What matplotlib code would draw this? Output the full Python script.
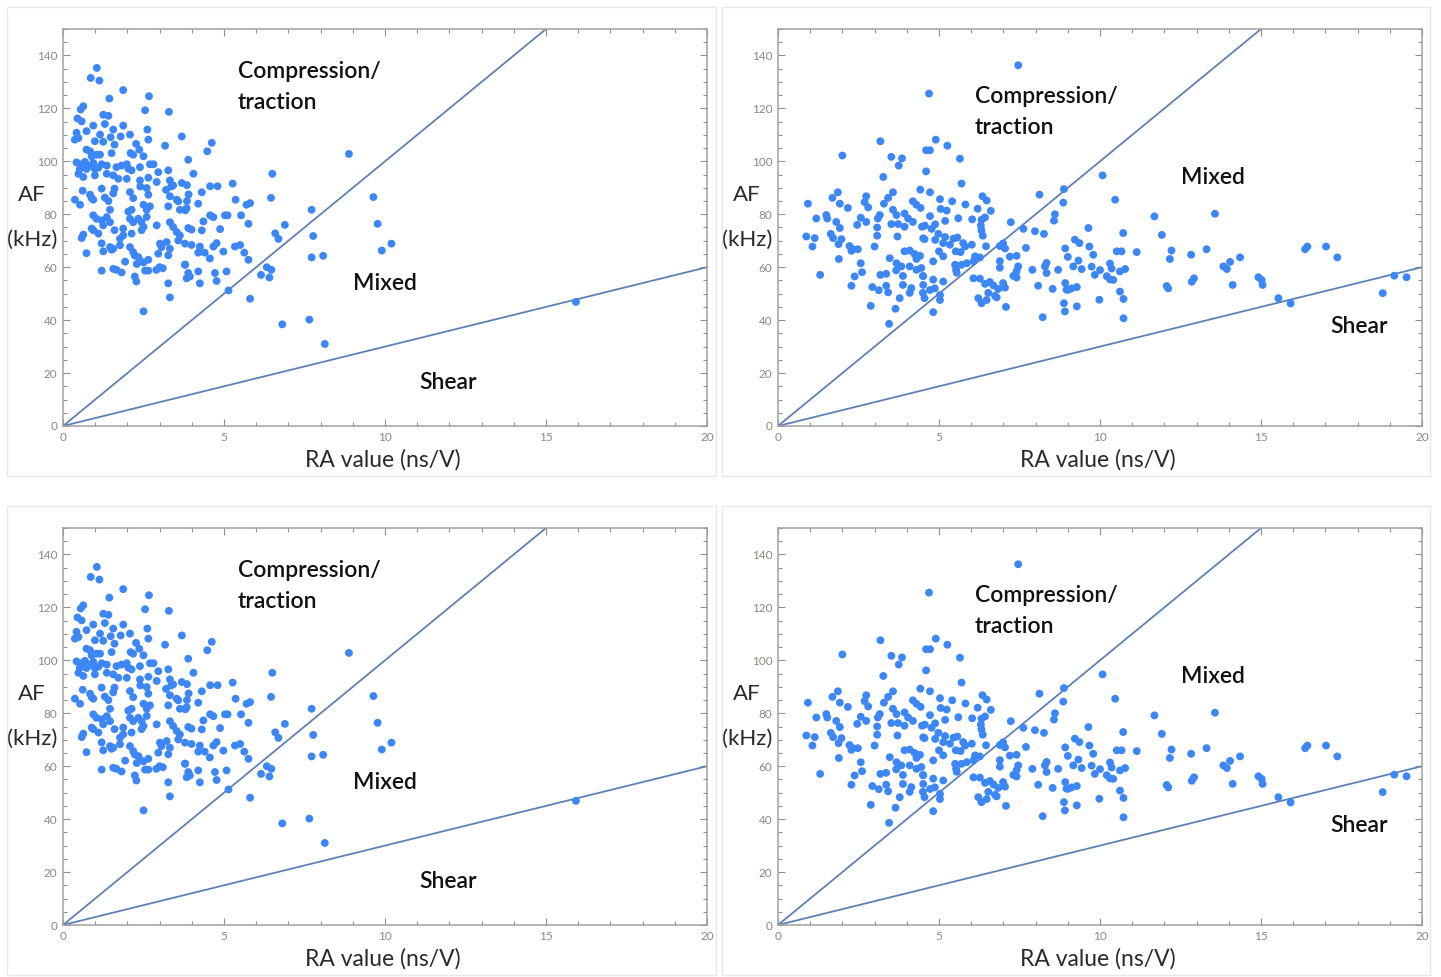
import numpy as np
import matplotlib
matplotlib.use('Agg')
import matplotlib.pyplot as plt
from matplotlib.patches import Rectangle
from matplotlib.ticker import MultipleLocator

# RA (ns/V), AF (kHz), left data set
left_pts = [
    (1.05,135.3),(0.86,131.5),(1.13,130.5),(1.87,126.9),(1.44,123.7),(2.67,124.6),(0.63,120.8),(0.55,119.6),
    (2.55,119.3),(3.29,118.7),(1.25,117.6),(1.41,117.2),(0.45,116.2),(0.58,115.1),(0.94,113.5),(1.3,114.1),
    (1.87,113.5),(2.62,112.0),(1.56,112.0),(0.73,111.4),(0.42,110.8),(1.15,110.1),(2.08,110.1),(1.79,109.4),
    (1.48,109.1),(3.69,109.4),(2.65,108.2),(0.37,108.2),(0.48,108.8),(2.27,106.6),(0.99,107.6),(1.25,107.4),
    (1.6,106.3),(2.37,104.4),(3.17,105.9),(0.73,104.4),(0.84,103.8),(2.1,103.1),(2.18,102.5),(1.51,103.1),
    (1.04,102.5),(0.89,101.9),(1.15,102.5),(3.89,100.6),(2.5,101.9),(2.7,98.9),
    (0.42,99.6),(0.58,98.9),(0.68,99.8),(0.84,98.3),(0.94,99.4),(1.1,97.6),(1.2,98.9),(0.73,97.1),(0.52,97.1),
    (0.99,97.1),(1.36,98.4),(1.66,97.8),(1.82,98.4),(1.98,98.9),(2.03,97.2),(2.13,96.6),(2.39,97.8),(2.81,98.9),
    (3.27,96.6),(0.48,95.3),(0.63,94.1),(0.99,94.7),(1.36,95.3),(1.56,94.7),(1.72,93.4),(1.98,93.4),(2.39,92.8),
    (2.65,93.8),(2.96,95.9),(3.32,92.8),(2.91,92.2),(3.69,91.8),(3.42,90.9),
    (0.61,88.9),(0.37,85.5),(0.53,83.6),(0.84,87.4),(0.94,85.5),(0.89,86.1),(1.2,89.7),(1.3,86.3),(1.41,85.0),
    (1.46,81.7),(1.56,87.9),(1.6,89.7),(2.08,88.4),(2.18,86.1),(2.13,81.7),(2.03,81.0),(2.4,90.5),(2.6,89.9),
    (2.65,87.4),(2.5,83.6),(2.7,83.0),(2.6,81.7),(3.2,89.2),(3.36,90.5),(3.32,86.8),(3.27,83.0),(3.58,84.9),
    (3.63,81.7),(3.84,82.3),(3.53,85.5),(0.94,79.6),(1.04,78.3),(1.2,77.7),(1.36,78.9),(1.46,77.0),(1.25,75.8),
    (2.08,78.3),(2.18,77.0),(2.34,78.3),(2.44,77.0),(2.5,75.2),(2.6,79.0),(2.44,74.0),(3.32,77.0),(3.42,75.2),
    (3.53,73.3),(3.63,72.0),(3.58,70.1),(3.79,68.9),(0.89,74.6),(0.94,74.0),(1.1,72.7),(1.6,74.0),(1.87,74.6),
    (1.87,72.0),(2.13,72.7),(1.77,70.8),(2.91,75.8),(3.01,68.9),(3.06,67.6),(3.22,69.5),(2.96,65.1),(3.32,67.0),
    (3.27,64.5),(0.63,72.3),(0.58,71.0),(1.2,69.0),(1.46,67.6),(1.56,67.0),(1.77,68.3),(2.08,67.6),(2.18,65.7),
    (2.23,64.4),(2.34,63.8),(2.39,62.5),(2.29,61.2),(2.5,61.8),(1.25,66.0),(1.51,66.6),(0.73,65.3),(1.93,62.1),
    (2.65,62.8),(3.0,60.0),(3.1,59.6),(1.56,59.4),(1.66,59.0),(1.82,58.0),(1.2,58.7),(2.55,58.7),(2.65,58.7),
    (2.9,59.0),(3.79,60.9),(3.84,55.8),(2.23,56.5),(2.28,54.6),(3.27,53.9),(3.32,48.6),(2.5,43.3),
    (4.62,107.0),(4.48,103.8),(8.88,102.8),(4.05,95.3),(6.5,95.3),(3.85,91.0),(3.9,87.5),(3.85,85.0),(3.8,81.5),
    (4.57,90.6),(4.8,90.6),(4.31,88.3),(5.27,91.6),(5.36,85.5),(6.46,86.2),(5.7,83.6),(5.81,84.2),(4.2,84.0),
    (4.57,79.6),(4.67,78.9),(5.03,79.6),(5.11,79.6),(5.53,79.6),(4.36,77.3),(5.76,76.4),(7.72,81.7),(6.89,76.0),
    (6.59,72.8),(6.69,70.7),(7.77,71.8),(3.89,74.8),(3.99,74.2),(4.31,73.9),(4.88,74.4),(3.99,68.4),(4.25,67.8),
    (4.2,65.5),(4.4,65.5),(4.56,63.3),(4.67,67.8),(4.77,69.1),(4.98,65.9),(5.34,67.8),(5.5,68.4),(5.63,65.5),
    (5.76,62.8),(7.72,63.7),(8.08,64.3),(3.79,61.0),(3.89,57.8),(3.94,56.5),(4.2,58.4),(4.72,57.8),(5.08,58.4),
    (4.25,53.9),(4.77,54.8),(6.15,57.1),(6.33,60.0),(6.47,59.0),(6.41,56.1),(5.14,51.2),(5.81,48.1),(6.81,38.4),
    (7.65,40.2),(8.13,31.0),(9.64,86.5),(9.77,76.4),(10.2,68.9),(9.9,66.3),(15.93,46.9),
]

# right data set
right_pts = [
    (7.46,136.3),(4.69,125.6),
    (3.18,107.6),(2.0,102.2),(3.52,101.7),(3.85,101.1),(3.75,98.4),(3.27,94.1),(4.6,104.2),(4.6,96.2),(4.42,89.3),
    (1.86,88.3),(1.69,86.2),(0.93,84.0),(1.92,84.0),(2.17,82.4),(2.74,86.8),(2.69,84.6),(2.8,82.6),(3.57,88.3),
    (3.42,86.2),(3.29,84.0),(4.19,84.9),(4.3,83.6),(4.43,82.4),(3.57,81.7),(3.68,79.7),(3.93,80.3),(4.04,78.4),
    (4.19,77.1),(1.5,79.7),(1.53,78.4),(1.19,78.4),(1.81,77.1),(1.92,74.8),(2.46,76.0),(2.57,78.7),(2.74,77.1),
    (3.1,78.4),(3.16,79.7),(3.08,75.0),(3.52,76.3),(3.73,76.3),(3.93,75.3),(0.88,71.6),(1.14,71.0),(1.07,67.8),
    (1.64,72.6),(1.71,71.0),(1.97,70.6),(1.88,68.7),(2.22,68.0),(2.33,66.8),(2.48,66.8),(2.28,66.2),(3.08,71.9),
    (3.0,67.8),(3.71,71.6),(4.55,70.6),(4.47,75.3),(3.93,66.0),(4.09,66.3),(4.24,65.0),(4.3,63.1),(1.89,63.1),
    (3.47,63.4),(2.57,61.5),(2.61,58.1),(3.68,61.5),(3.83,60.3),(3.88,56.7),(3.67,58.8),(4.09,60.3),(4.3,59.0),
    (4.45,59.7),(4.5,56.7),(1.31,57.1),(2.38,56.5),(3.18,57.1),(3.36,57.5),(2.28,53.0),(2.93,52.5),(3.13,51.3),
    (3.36,53.0),(3.42,50.5),(3.88,53.3),(4.09,50.3),(4.14,52.1),(3.78,48.3),(4.5,50.3),(4.55,48.3),(2.88,45.4),
    (3.65,44.3),(3.45,38.6),
    (4.9,108.2),(5.26,105.9),(4.72,104.2),(5.65,101.0),(5.7,91.6),(4.72,88.3),(5.03,85.7),(5.41,84.9),(5.82,83.7),
    (6.35,86.8),(6.48,85.2),(5.05,82.0),(5.24,81.4),(6.2,82.1),(6.61,81.3),(4.72,79.3),(4.88,76.2),(5.19,77.5),
    (5.6,78.5),(6.03,78.1),(6.32,77.9),(6.43,78.8),(6.3,75.7),(6.32,73.9),(6.36,71.9),(4.56,75.7),(4.77,74.5),
    (4.98,72.6),(5.19,71.4),(5.45,70.8),(5.57,71.2),(4.51,70.9),(4.88,70.3),(5.13,69.1),(5.34,68.5),(5.75,69.1),
    (5.81,67.8),(6.02,68.5),(7.23,77.0),(7.62,74.5),(7.98,73.6),(8.26,72.6),(8.57,77.6),(8.6,80.0),(8.12,87.4),
    (8.88,89.5),(8.86,84.4),(6.46,67.9),(6.89,68.0),(6.99,69.0),(7.05,67.1),(7.7,67.3),(7.2,64.0),(7.41,64.3),
    (5.0,66.0),(5.13,64.1),(5.52,66.0),(5.67,65.7),(6.12,64.1),(6.27,63.7),(4.41,64.3),(4.82,62.2),(5.5,60.9),
    (5.7,60.9),(5.86,61.5),(6.07,62.2),(6.89,62.3),(6.89,59.8),(7.46,60.3),(7.41,58.5),(4.51,56.6),(4.82,55.3),
    (5.13,54.6),(5.53,59.0),(5.55,57.9),(6.07,55.8),(6.27,55.7),(6.43,53.7),(6.58,54.4),(6.69,53.1),(6.84,51.8),
    (6.53,50.3),(6.99,54.0),(7.05,52.3),(7.31,56.7),(7.41,56.1),(7.9,59.0),(8.34,61.6),(8.29,60.3),(8.34,57.8),
    (8.7,59.0),(8.92,67.1),(9.0,63.9),(8.08,53.0),(8.53,51.8),(8.92,54.0),(8.96,51.5),(4.51,53.3),(4.72,51.4),
    (4.87,52.0),(5.03,49.5),(5.03,47.6),(6.22,48.3),(6.32,46.4),(6.48,47.6),(6.74,49.2),(6.79,48.6),(7.08,45.0),
    (4.82,43.0),(8.22,41.1),(8.88,46.4),(8.91,43.3),
    (10.47,85.5),(11.69,79.2),(9.64,74.8),(10.72,72.9),(11.92,72.2),(9.22,70.4),(9.36,69.1),(9.67,67.8),(9.79,64.7),
    (9.33,62.5),(9.17,60.3),(9.43,59.3),(10.52,66.0),(10.67,66.0),(11.14,65.7),(12.22,66.3),(12.17,63.1),(12.83,64.7),
    (13.31,66.8),(9.74,60.2),(9.84,57.1),(10.0,58.9),(10.31,61.4),(10.36,59.5),(10.21,56.6),(10.31,55.4),(10.41,55.2),
    (10.62,58.4),(10.78,59.3),(9.02,51.5),(9.28,52.5),(9.12,52.0),(12.07,52.9),(12.12,52.0),(12.85,54.5),(12.92,55.8),
    (10.62,50.8),(10.73,48.0),(9.98,47.7),(9.28,45.2),(10.73,40.7),
    (10.08,94.7),(13.57,80.2),(14.04,62.0),(13.83,60.3),(13.94,59.3),(14.35,63.7),(14.12,53.3),(14.92,56.2),
    (15.02,55.2),(15.05,53.3),(15.54,48.3),(15.92,46.3),(16.37,66.8),(16.44,67.8),(17.02,67.8),(17.37,63.7),
    (18.78,50.2),(19.14,56.8),(19.52,56.2),
]

# boundary lines AF = k * RA
upper_slope = 10
lower_slope = 3

# region labels: (text, x, y, ha)
left_labels = [("Compression/", 5.43, 134, 'left'), ("traction", 5.43, 122.2, 'left'),
               ("Mixed", 10.0, 53.7, 'center'), ("Shear", 11.96, 16.3, 'center')]
right_labels = [("Compression/", 6.12, 124.5, 'left'), ("traction", 6.12, 112.7, 'left'),
                ("Mixed", 13.5, 93.8, 'center'), ("Shear", 18.04, 37.5, 'center')]

W, H = 1441, 977
fig = plt.figure(figsize=(W/100, H/100), dpi=100)
fig.patch.set_facecolor('white')

# grey frames around each panel
for (x0, y0, x1, y1) in [(7, 7, 716, 476), (722, 7, 1430, 476), (7, 506, 716, 975), (722, 506, 1430, 975)]:
    fig.patches.append(Rectangle((x0/W, 1-y1/H), (x1-x0)/W, (y1-y0)/H, transform=fig.transFigure,
                                 fill=False, edgecolor='#e8e8e8', linewidth=1.0))

dot_col = '#3c87f5'
line_col = '#5e81b5'
frame_col = '#a0a0a0'
tick_txt = '#8f8780'
font = 'Lato'

panels = [(63, 29, left_pts, left_labels), (778, 29, right_pts, right_labels),
          (63, 528, left_pts, left_labels), (778, 528, right_pts, right_labels)]

for (px, py, pts, labels) in panels:
    ax = fig.add_axes([px/W, 1-(py+397)/H, 644/W, 397/H])
    d = np.array(pts)
    ax.scatter(d[:, 0], d[:, 1], s=32, color=dot_col, edgecolors='none', zorder=3)
    xs = np.array([0, 20])
    ax.plot(xs, upper_slope*xs, color=line_col, lw=1.3, zorder=2)
    ax.plot(xs, lower_slope*xs, color=line_col, lw=1.3, zorder=2)
    ax.set_xlim(0, 20)
    ax.set_ylim(0, 150)
    ax.xaxis.set_major_locator(MultipleLocator(5))
    ax.xaxis.set_minor_locator(MultipleLocator(1))
    ax.yaxis.set_major_locator(MultipleLocator(20))
    ax.yaxis.set_minor_locator(MultipleLocator(5))
    ax.set_yticks([0, 20, 40, 60, 80, 100, 120, 140])
    for s in ax.spines.values():
        s.set_color(frame_col)
        s.set_linewidth(1.1)
    ax.tick_params(which='both', direction='in', top=True, right=True, color='#909090', width=0.8,
                   labelsize=8.5, labelcolor=tick_txt, pad=4)
    ax.tick_params(which='major', length=5)
    ax.tick_params(which='minor', length=2.8)
    for lab in ax.get_xticklabels() + ax.get_yticklabels():
        lab.set_fontfamily(font)
    for (t, x, y, ha) in labels:
        ax.text(x, y, t, ha=ha, va='center', fontsize=16.5, family=font, weight='semibold', color='#111111')
    ax.text(-0.048, 0.582, "AF", transform=ax.transAxes, ha='center', va='center',
            fontsize=16, family=font, color='#2a2a2a')
    ax.text(-0.048, 0.468, "(kHz)", transform=ax.transAxes, ha='center', va='center',
            fontsize=16, family=font, color='#2a2a2a')
    ax.text(0.497, -0.086, "RA value (ns/V)", transform=ax.transAxes, ha='center', va='center',
            fontsize=16.5, family=font, color='#2a2a2a')

fig.savefig('out.png', dpi=100)
